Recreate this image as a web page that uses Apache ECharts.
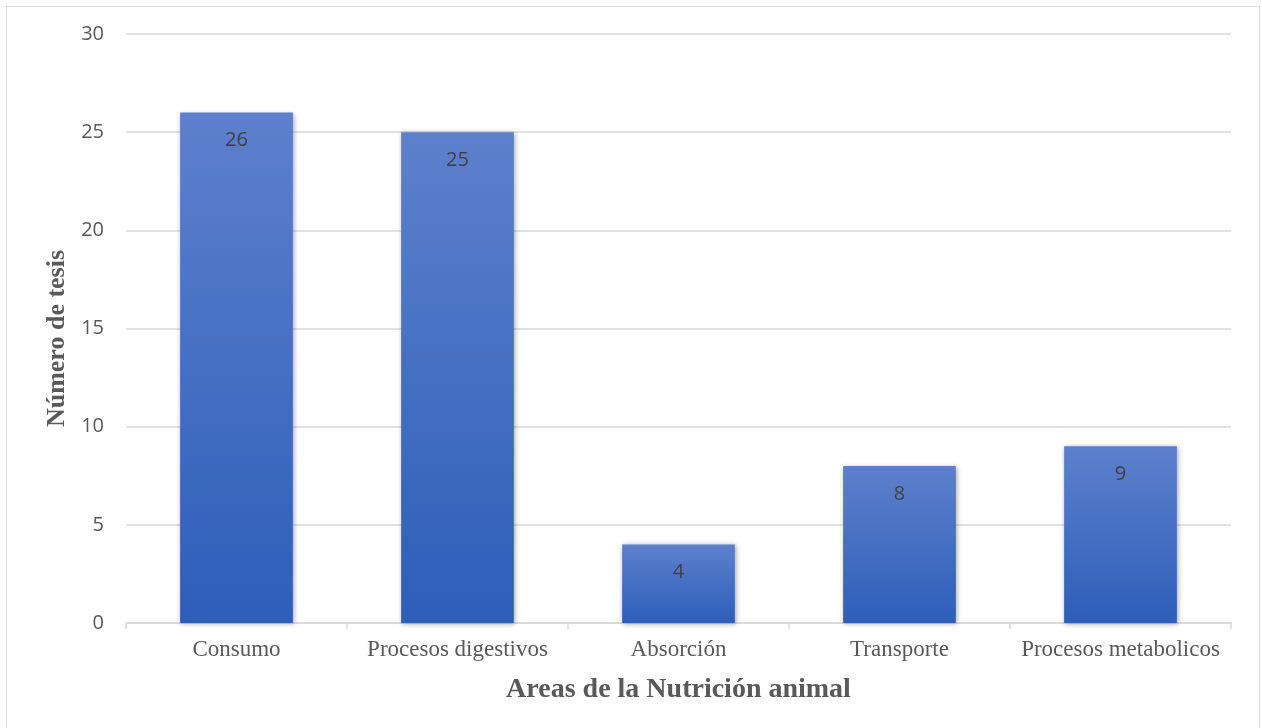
<!DOCTYPE html>
<html><head><meta charset="utf-8">
<script src="https://cdn.jsdelivr.net/npm/echarts@6/dist/echarts.min.js"></script>
<style>html,body{margin:0;padding:0;background:#fff;overflow:hidden}#wrap{position:absolute;left:6px;top:6px;width:1254px;height:740px;border:1px solid #d9d9d9;box-sizing:border-box}#c{position:absolute;left:0;top:0;width:1262px;height:728px}</style>
</head><body><div id="wrap"></div><div id="c"></div>
<script>
const categories = ['Consumo', 'Procesos digestivos', 'Absorción', 'Transporte', 'Procesos metabolicos'];
const values = [26, 25, 4, 8, 9];
const yTicks = {min: 0, max: 30, interval: 5};
const xTitle = 'Areas de la Nutrición animal';
const yTitle = 'Número de tesis';

const chart = echarts.init(document.getElementById('c'), null, {renderer: 'canvas'});
chart.setOption({
  animation: false,
  backgroundColor: 'transparent',
  grid: {left: 126, right: 31, top: 34, bottom: 105, containLabel: false},
  xAxis: {
    type: 'category', data: categories,
    name: xTitle, nameLocation: 'middle', nameGap: 53,
    nameTextStyle: {fontFamily: 'Liberation Serif', fontWeight: 'bold', fontSize: 28, color: '#595959'},
    axisLine: {lineStyle: {color: '#d9d9d9', width: 1.5}},
    axisTick: {show: true, interval: 0, length: 6, lineStyle: {color: '#d9d9d9', width: 1.5}},
    axisLabel: {interval: 0, hideOverlap: false, fontFamily: 'Liberation Serif', fontSize: 23, color: '#595959', margin: 15}
  },
  yAxis: {
    type: 'value', min: yTicks.min, max: yTicks.max, interval: yTicks.interval,
    name: yTitle, nameLocation: 'middle', nameGap: 55,
    nameTextStyle: {fontFamily: 'Liberation Serif', fontWeight: 'bold', fontSize: 26, color: '#595959', padding: [0, 20, 0, 0]},
    axisLine: {show: false}, axisTick: {show: false},
    splitLine: {lineStyle: {color: '#d9d9d9', width: 1.5}},
    axisLabel: {fontFamily: 'Open Sans', fontSize: 20, color: '#595959', margin: 22}
  },
  series: [{
    type: 'bar', data: values, barWidth: '51%',
    itemStyle: {
      color: new echarts.graphic.LinearGradient(0, 0, 0, 1, [
        {offset: 0, color: '#5d80cc'}, {offset: 1, color: '#2d5eb9'}
      ]),
      shadowBlur: 5, shadowColor: 'rgba(0,0,0,0.35)', shadowOffsetX: 1, shadowOffsetY: 1
    },
    label: {show: true, position: 'insideTop', distance: 18, fontFamily: 'Open Sans', fontSize: 20, color: '#404040'}
  }]
});
</script></body></html>
